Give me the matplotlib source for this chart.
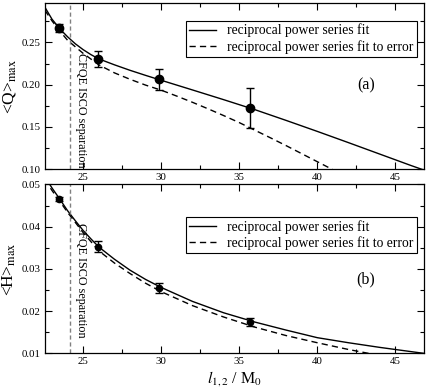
import numpy as np
import matplotlib
matplotlib.use('Agg')
import matplotlib.pyplot as plt
from matplotlib.ticker import MultipleLocator

plt.rcParams['font.family'] = ['Liberation Serif', 'DejaVu Serif']
plt.rcParams['mathtext.fontset'] = 'stix'

# separations of the four runs
sep = [23.47, 25.96, 29.83, 35.72]

# <Q>max panel
q_val = [0.2667, 0.2304, 0.2064, 0.1724]
q_err = [0.005, 0.009, 0.0125, 0.024]
q_fit_x = [22.55, 23.0, 23.5, 24.0, 24.5, 25.0, 25.5, 26.0, 27.0, 28.0, 29.0, 30.0,
           32.0, 34.0, 36.0, 38.0, 40.0, 42.0, 44.0, 46.0, 46.85]
q_fit = [0.2915, 0.2775, 0.2661, 0.2566, 0.2483, 0.2414, 0.2355, 0.2305, 0.2235, 0.2170,
         0.2110, 0.2052, 0.1938, 0.1823, 0.1705, 0.1578, 0.1448, 0.1315, 0.1180, 0.1045, 0.0990]
q_efit_x = [22.55, 23.0, 23.5, 24.0, 25.0, 26.0, 27.0, 28.0, 29.0, 30.0, 31.0, 32.0,
            33.0, 34.0, 35.0, 36.0, 37.0, 38.0, 39.0, 40.0, 41.0]
q_efit = [0.2880, 0.2755, 0.2635, 0.2525, 0.2370, 0.2235, 0.2140, 0.2064, 0.1995, 0.1935,
          0.1865, 0.1792, 0.1715, 0.1635, 0.1552, 0.1462, 0.1372, 0.1280, 0.1185, 0.1090, 0.0995]

# <H>max panel
h_val = [0.0465, 0.0353, 0.0254, 0.01735]
h_err = [0.0005, 0.0012, 0.0012, 0.0009]
h_fit_x = [22.55, 23.0, 23.47, 24.0, 24.5, 25.0, 25.5, 26.0, 27.0, 28.0, 29.0, 30.0,
           32.0, 34.0, 36.0, 38.0, 40.0, 42.0, 44.0, 45.0, 46.0, 47.0]
h_fit = [0.0518, 0.0492, 0.0467, 0.0438, 0.0414, 0.0391, 0.0371, 0.0352, 0.0323, 0.0297,
         0.0275, 0.0256, 0.0223, 0.0196, 0.0174, 0.0155, 0.0137, 0.0125, 0.0114, 0.0109,
         0.0104, 0.0099]
h_efit_x = [22.55, 23.0, 23.47, 24.0, 25.0, 26.0, 27.0, 28.0, 29.0, 30.0, 32.0, 34.0,
            36.0, 38.0, 40.0, 42.0, 43.4]
h_efit = [0.0512, 0.0486, 0.0462, 0.0434, 0.0386, 0.0343, 0.0314, 0.0289, 0.0266, 0.0246,
          0.0213, 0.0186, 0.0162, 0.0142, 0.0125, 0.0109, 0.0099]

isco = 24.15
leg_labels = ['reciprocal power series fit', 'reciprocal power series fit to error']

fig = plt.figure(figsize=(4.36, 3.87), dpi=100)
ax1 = fig.add_axes([0.103, 0.5625, 0.870, 0.4297])
ax2 = fig.add_axes([0.103, 0.0871, 0.870, 0.4362])


def style(ax, ymaj, ymin):
    ax.set_xlim(22.55, 46.85)
    ax.xaxis.set_major_locator(MultipleLocator(5))
    ax.xaxis.set_minor_locator(MultipleLocator(2.5))
    ax.yaxis.set_major_locator(MultipleLocator(ymaj))
    ax.yaxis.set_minor_locator(MultipleLocator(ymin))
    ax.tick_params(which='both', direction='in', top=True, right=True, labelsize=7.8, pad=3)
    ax.tick_params(which='major', length=5, width=0.8)
    ax.tick_params(which='minor', length=3, width=0.8)
    for s in ax.spines.values():
        s.set_linewidth(0.9)


def legend(ax, top):
    leg = ax.legend(loc='upper right', bbox_to_anchor=(0.98, top), borderaxespad=0,
                    fontsize=9.8, fancybox=False, edgecolor='k', framealpha=1,
                    handlelength=2.0, labelspacing=0.2, borderpad=0.22, handletextpad=0.8)
    leg.get_frame().set_linewidth(0.8)


# top panel
ax1.plot(q_fit_x, q_fit, 'k-', lw=1.0, label=leg_labels[0])
ax1.plot(q_efit_x, q_efit, 'k', ls=(0, (4.5, 3)), lw=1.0, label=leg_labels[1])
ax1.errorbar(sep, q_val, yerr=q_err, fmt='o', color='k', ms=6, capsize=3,
             elinewidth=1.0, capthick=1.0)
ax1.axvline(isco, color='#808080', ls=(0, (3, 2)), lw=1.0)
ax1.text(24.85, 0.70, 'CFQE ISCO separation', rotation=270, fontsize=8.7,
         ha='center', va='top', transform=ax1.get_xaxis_transform())
ax1.text(0.846, 0.507, '(a)', fontsize=11.5, ha='center', va='center', transform=ax1.transAxes)
ax1.set_ylim(0.1, 0.2965)
style(ax1, 0.05, 0.025)
ax1.set_ylabel(r'<Q>$_{\mathrm{max}}$', fontsize=12.5, labelpad=3)
legend(ax1, 0.894)

# bottom panel
ax2.plot(h_fit_x, h_fit, 'k-', lw=1.0, label=leg_labels[0])
ax2.plot(h_efit_x, h_efit, 'k', ls=(0, (4.5, 3)), lw=1.0, label=leg_labels[1])
ax2.errorbar(sep, h_val, yerr=h_err, fmt='o', color='k', ms=4.5, capsize=3,
             elinewidth=1.0, capthick=1.0)
ax2.axvline(isco, color='#808080', ls=(0, (3, 2)), lw=1.0)
ax2.text(24.85, 0.772, 'CFQE ISCO separation', rotation=270, fontsize=8.7,
         ha='center', va='top', transform=ax2.get_xaxis_transform())
ax2.text(0.846, 0.44, '(b)', fontsize=11.5, ha='center', va='center', transform=ax2.transAxes)
ax2.set_ylim(0.01, 0.05)
style(ax2, 0.01, 0.005)
ax2.set_ylabel(r'<H>$_{\mathrm{max}}$', fontsize=12.5, labelpad=3)
ax2.set_xlabel(r'$l_{1,2}$ / M$_0$', fontsize=11.5, labelpad=2)
legend(ax2, 0.809)

fig.savefig('out.png', dpi=100)
